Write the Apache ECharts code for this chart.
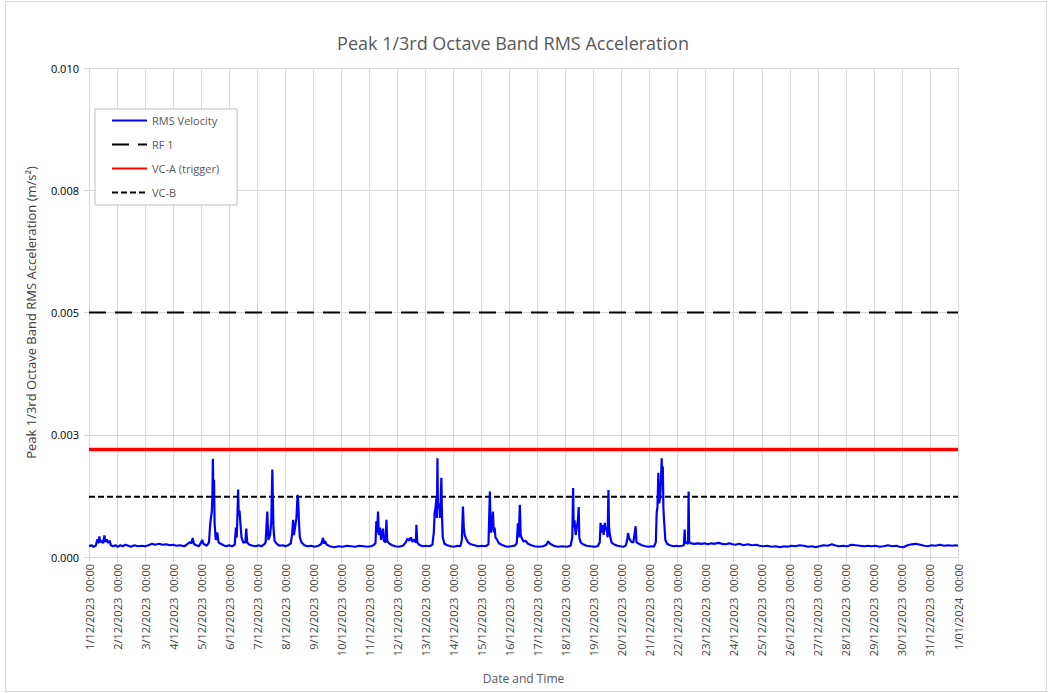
<!DOCTYPE html>
<html>
<head>
<meta charset="utf-8">
<script src="https://cdn.jsdelivr.net/npm/echarts@6/dist/echarts.min.js"></script>
<style>
  html, body { margin: 0; padding: 0; background: #fff; }
  #chart { width: 1051px; height: 693px; }
</style>
</head>
<body>
<div id="chart"></div>
<script>
// Tick labels for the daily grid (1 Dec 2023 to 1 Jan 2024)
const dateLabels = [
  '1/12/2023  00:00', '2/12/2023  00:00', '3/12/2023  00:00', '4/12/2023  00:00',
  '5/12/2023  00:00', '6/12/2023  00:00', '7/12/2023  00:00', '8/12/2023  00:00',
  '9/12/2023  00:00', '10/12/2023  00:00', '11/12/2023  00:00', '12/12/2023  00:00',
  '13/12/2023  00:00', '14/12/2023  00:00', '15/12/2023  00:00', '16/12/2023  00:00',
  '17/12/2023  00:00', '18/12/2023  00:00', '19/12/2023  00:00', '20/12/2023  00:00',
  '21/12/2023  00:00', '22/12/2023  00:00', '23/12/2023  00:00', '24/12/2023  00:00',
  '25/12/2023  00:00', '26/12/2023  00:00', '27/12/2023  00:00', '28/12/2023  00:00',
  '29/12/2023  00:00', '30/12/2023  00:00', '31/12/2023  00:00', '1/01/2024  00:00'
];
const yTickLabels = ['0.000', '0.003', '0.005', '0.008', '0.010'];

// Criteria levels (m/s²)
const rf1Level = 0.005;
const vcaLevel = 0.0022;
const vcbLevel = 0.00123;

// Measured peak RMS acceleration: [days since 1/12/2023 00:00, m/s²]
const rmsReadings = [
  [0.00,0.00022],[0.08,0.00024],[0.16,0.00021],[0.24,0.00023],[0.30,0.00036],[0.33,0.00028],[0.37,0.00042],[0.40,0.00030],
  [0.45,0.00033],[0.50,0.00028],[0.55,0.00044],[0.58,0.00031],[0.63,0.00036],[0.68,0.00029],[0.74,0.00033],[0.78,0.00024],
  [0.86,0.00022],[0.94,0.00024],
  [1.02,0.00021],[1.12,0.00024],[1.20,0.00022],[1.30,0.00025],[1.40,0.00023],[1.50,0.00021],[1.62,0.00024],[1.75,0.00022],[1.88,0.00023],
  [2.00,0.00022],[2.12,0.00024],[2.25,0.00027],[2.35,0.00025],[2.50,0.00027],[2.62,0.00025],[2.75,0.00026],[2.88,0.00024],
  [3.00,0.00025],[3.12,0.00023],[3.25,0.00024],[3.40,0.00022],[3.50,0.00026],[3.58,0.00030],[3.65,0.00028],[3.70,0.00039],
  [3.74,0.00027],[3.82,0.00024],[3.92,0.00022],
  [4.00,0.00030],[4.04,0.00035],[4.08,0.00027],[4.14,0.00025],[4.20,0.00023],[4.28,0.00030],[4.32,0.00065],[4.35,0.00080],
  [4.38,0.00093],[4.40,0.00120],[4.42,0.00201],[4.44,0.00110],[4.46,0.00158],[4.48,0.00070],[4.52,0.00035],[4.58,0.00050],
  [4.62,0.00030],[4.70,0.00027],[4.80,0.00024],[4.90,0.00022],
  [5.00,0.00024],[5.10,0.00022],[5.20,0.00025],[5.24,0.00060],[5.27,0.00040],[5.30,0.00093],[5.32,0.00138],[5.34,0.00085],
  [5.37,0.00095],[5.40,0.00070],[5.44,0.00040],[5.50,0.00030],[5.58,0.00030],[5.61,0.00058],[5.64,0.00030],[5.72,0.00025],
  [5.85,0.00023],[5.95,0.00022],
  [6.05,0.00024],[6.15,0.00022],[6.25,0.00026],[6.30,0.00030],[6.36,0.00093],[6.40,0.00035],[6.46,0.00045],[6.50,0.00070],
  [6.54,0.00179],[6.56,0.00120],[6.58,0.00060],[6.62,0.00033],[6.70,0.00027],[6.80,0.00023],[6.92,0.00024],
  [7.00,0.00022],[7.10,0.00024],[7.20,0.00028],[7.25,0.00050],[7.28,0.00076],[7.31,0.00045],[7.35,0.00060],[7.40,0.00080],
  [7.44,0.00127],[7.46,0.00117],[7.49,0.00073],[7.52,0.00040],[7.58,0.00030],[7.68,0.00024],[7.80,0.00022],[7.92,0.00023],
  [8.05,0.00021],[8.18,0.00023],[8.28,0.00026],[8.35,0.00039],[8.38,0.00027],[8.42,0.00033],[8.48,0.00025],[8.60,0.00022],
  [8.75,0.00020],[8.90,0.00022],
  [9.05,0.00021],[9.20,0.00023],[9.35,0.00022],[9.50,0.00021],[9.65,0.00023],[9.80,0.00022],[9.92,0.00021],
  [10.05,0.00022],[10.15,0.00024],[10.22,0.00028],[10.25,0.00073],[10.28,0.00050],[10.31,0.00093],[10.34,0.00045],[10.38,0.00060],
  [10.42,0.00035],[10.46,0.00050],[10.49,0.00058],[10.52,0.00033],[10.58,0.00030],[10.61,0.00076],[10.64,0.00032],[10.72,0.00027],
  [10.82,0.00024],[10.92,0.00022],
  [11.05,0.00021],[11.20,0.00023],[11.30,0.00030],[11.36,0.00038],[11.42,0.00033],[11.48,0.00040],[11.54,0.00031],[11.60,0.00036],
  [11.66,0.00029],[11.68,0.00066],[11.71,0.00030],[11.78,0.00025],[11.90,0.00022],
  [12.02,0.00023],[12.15,0.00022],[12.25,0.00025],[12.30,0.00050],[12.33,0.00090],[12.36,0.00100],[12.39,0.00120],[12.41,0.00080],
  [12.43,0.00202],[12.45,0.00100],[12.48,0.00102],[12.50,0.00110],[12.52,0.00080],[12.54,0.00105],[12.57,0.00162],[12.59,0.00090],
  [12.62,0.00040],[12.68,0.00027],[12.78,0.00024],[12.90,0.00022],
  [13.02,0.00021],[13.15,0.00023],[13.25,0.00022],[13.30,0.00035],[13.34,0.00103],[13.37,0.00060],[13.40,0.00045],[13.45,0.00038],
  [13.52,0.00030],[13.62,0.00026],[13.75,0.00024],[13.88,0.00022],
  [14.02,0.00023],[14.15,0.00022],[14.25,0.00026],[14.30,0.00134],[14.33,0.00050],[14.37,0.00060],[14.41,0.00093],[14.44,0.00050],
  [14.47,0.00060],[14.50,0.00040],[14.56,0.00035],[14.62,0.00028],[14.72,0.00025],[14.85,0.00022],[14.95,0.00021],
  [15.05,0.00022],[15.18,0.00023],[15.26,0.00028],[15.30,0.00069],[15.33,0.00040],[15.37,0.00107],[15.40,0.00045],[15.44,0.00038],
  [15.50,0.00032],[15.58,0.00033],[15.66,0.00027],[15.78,0.00024],[15.90,0.00022],
  [16.05,0.00021],[16.20,0.00022],[16.32,0.00025],[16.38,0.00032],[16.45,0.00027],[16.58,0.00023],[16.72,0.00021],[16.88,0.00022],
  [17.05,0.00021],[17.18,0.00023],[17.24,0.00040],[17.27,0.00141],[17.29,0.00060],[17.32,0.00075],[17.36,0.00045],[17.40,0.00060],
  [17.44,0.00075],[17.47,0.00102],[17.49,0.00040],[17.54,0.00030],[17.62,0.00026],[17.75,0.00023],[17.88,0.00022],
  [18.02,0.00021],[18.15,0.00022],[18.22,0.00030],[18.25,0.00070],[18.28,0.00050],[18.32,0.00065],[18.36,0.00045],[18.40,0.00070],
  [18.43,0.00055],[18.47,0.00060],[18.50,0.00040],[18.53,0.00137],[18.55,0.00062],[18.58,0.00045],[18.64,0.00030],[18.72,0.00026],
  [18.85,0.00023],[18.95,0.00022],
  [19.08,0.00021],[19.15,0.00024],[19.20,0.00035],[19.23,0.00049],[19.26,0.00040],[19.30,0.00035],[19.35,0.00031],[19.42,0.00030],
  [19.50,0.00063],[19.53,0.00030],[19.62,0.00027],[19.72,0.00024],[19.85,0.00022],[19.95,0.00021],
  [20.05,0.00022],[20.15,0.00021],[20.22,0.00030],[20.25,0.00090],[20.28,0.00103],[20.31,0.00172],[20.34,0.00110],[20.37,0.00120],
  [20.40,0.00150],[20.43,0.00202],[20.45,0.00148],[20.47,0.00185],[20.49,0.00100],[20.52,0.00070],[20.56,0.00035],[20.62,0.00027],
  [20.72,0.00024],[20.85,0.00022],[20.95,0.00023],
  [21.05,0.00022],[21.15,0.00023],[21.22,0.00024],[21.25,0.00056],[21.27,0.00028],[21.33,0.00030],[21.37,0.00026],[21.39,0.00134],
  [21.41,0.00030],[21.48,0.00028],[21.60,0.00027],[21.72,0.00028],[21.85,0.00027],[21.95,0.00028],
  [22.08,0.00026],[22.20,0.00028],[22.32,0.00027],[22.45,0.00029],[22.58,0.00027],[22.70,0.00026],[22.85,0.00028],[22.95,0.00026],
  [23.05,0.00025],[23.20,0.00027],[23.35,0.00024],[23.50,0.00026],[23.65,0.00024],[23.80,0.00025],[23.92,0.00023],
  [24.05,0.00022],[24.20,0.00023],[24.35,0.00021],[24.50,0.00022],[24.65,0.00020],[24.80,0.00022],[24.92,0.00021],
  [25.05,0.00023],[25.20,0.00022],[25.35,0.00024],[25.50,0.00023],[25.65,0.00021],[25.80,0.00022],[25.92,0.00020],
  [26.05,0.00022],[26.20,0.00024],[26.35,0.00023],[26.50,0.00026],[26.60,0.00024],[26.75,0.00022],[26.90,0.00023],
  [27.05,0.00022],[27.20,0.00025],[27.35,0.00024],[27.50,0.00023],[27.65,0.00022],[27.80,0.00023],[27.92,0.00022],
  [28.05,0.00023],[28.20,0.00021],[28.35,0.00022],[28.50,0.00024],[28.65,0.00022],[28.80,0.00023],[28.92,0.00021],
  [29.05,0.00020],[29.20,0.00024],[29.35,0.00026],[29.50,0.00027],[29.65,0.00025],[29.80,0.00023],[29.92,0.00022],
  [30.05,0.00024],[30.20,0.00023],[30.35,0.00025],[30.50,0.00023],[30.65,0.00024],[30.80,0.00023],[30.92,0.00024],[31.00,0.00023]
];

const xMin = 0, xMax = 31;
const levelLine = v => [[xMin, v], [xMax, v]];

const chart = echarts.init(document.getElementById('chart'), null, { renderer: 'svg' });
const font = '"Open Sans", "Liberation Sans", sans-serif';

chart.setOption({
  animation: false,
  backgroundColor: '#ffffff',
  textStyle: { fontFamily: font },
  title: {
    text: 'Peak 1/3rd Octave Band RMS Acceleration',
    left: 508, top: 29, textAlign: 'center',
    textStyle: { fontFamily: font, fontSize: 18, fontWeight: 'normal', color: '#595959' }
  },
  graphic: [{
    type: 'rect', silent: true, z: -1,
    shape: { x: 5.5, y: 1.5, width: 1041, height: 690 },
    style: { fill: 'none', stroke: '#d9d9d9', lineWidth: 1 }
  }],
  legend: {
    orient: 'vertical', left: 95, top: 109,
    padding: [6, 18, 7, 16], itemGap: 13, itemWidth: 35, itemHeight: 10,
    borderColor: '#bfbfbf', borderWidth: 1, backgroundColor: '#ffffff',
    itemStyle: { opacity: 0 },
    textStyle: { fontFamily: font, fontSize: 11, color: '#595959' },
    data: ['RMS Velocity', 'RF 1', 'VC-A (trigger)', 'VC-B']
  },
  grid: { left: 89, top: 68, width: 869, height: 489 },
  xAxis: {
    type: 'value', min: xMin, max: xMax, interval: 1,
    name: 'Date and Time', nameLocation: 'middle', nameGap: 115,
    nameTextStyle: { fontFamily: font, fontSize: 12, color: '#595959' },
    axisLine: { show: true, lineStyle: { color: '#d9d9d9' } },
    axisTick: { show: true, length: 5, lineStyle: { color: '#d9d9d9' } },
    axisLabel: {
      rotate: 90, margin: 7, fontFamily: font, fontSize: 11, color: '#404040',
      formatter: v => dateLabels[Math.round(v)] || ''
    },
    splitLine: { show: true, lineStyle: { color: '#d9d9d9' } }
  },
  yAxis: {
    type: 'value', min: 0, max: 0.01, interval: 0.0025,
    name: 'Peak 1/3rd Octave Band RMS Acceleration (m/s²)', nameLocation: 'middle', nameGap: 52,
    nameTextStyle: { fontFamily: font, fontSize: 13, color: '#404040' },
    axisLine: { show: true, lineStyle: { color: '#d9d9d9' } },
    axisTick: { show: true, length: 5, lineStyle: { color: '#d9d9d9' } },
    axisLabel: {
      margin: 10, fontFamily: font, fontSize: 11, color: '#000000',
      formatter: v => yTickLabels[Math.round(v / 0.0025)] || ''
    },
    splitLine: { show: true, lineStyle: { color: '#d9d9d9' } }
  },
  series: [
    {
      name: 'RMS Velocity', type: 'line', data: rmsReadings, showSymbol: false, symbol: 'none',
      lineStyle: { color: '#0000ff', width: 2.2 }, itemStyle: { color: '#0000ff' }, z: 5
    },
    {
      name: 'RF 1', type: 'line', data: levelLine(rf1Level), symbol: 'none',
      lineStyle: { color: '#000000', width: 2, type: [17, 9] }, itemStyle: { color: '#000000' }
    },
    {
      name: 'VC-A (trigger)', type: 'line', data: levelLine(vcaLevel), symbol: 'none',
      lineStyle: { color: '#ff0000', width: 3.5 }, itemStyle: { color: '#ff0000' }
    },
    {
      name: 'VC-B', type: 'line', data: levelLine(vcbLevel), symbol: 'none',
      lineStyle: { color: '#000000', width: 2, type: [6, 3] }, itemStyle: { color: '#000000' }
    }
  ]
});
</script>
</body>
</html>
